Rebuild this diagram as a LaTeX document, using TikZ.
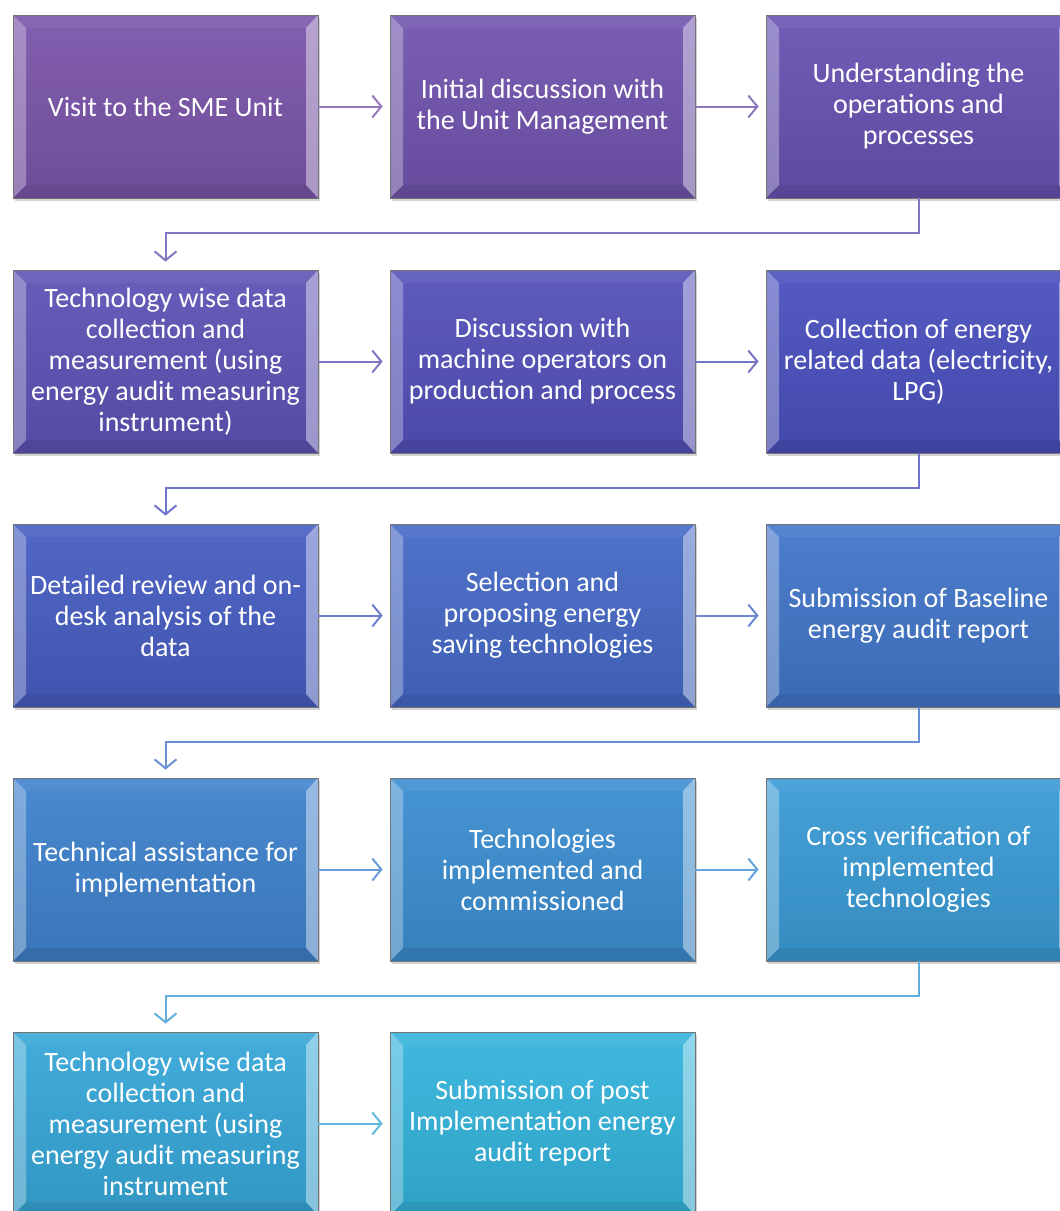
\documentclass[tikz,border=0pt]{standalone}
\usepackage{fontspec}
\setmainfont{Carlito}
\usetikzlibrary{arrows.meta,calc,shadows}

% colours of the stages, purple to cyan
\definecolor{st1}{RGB}{123,85,170}
\definecolor{st2}{RGB}{113,84,174}
\definecolor{st3}{RGB}{103,83,178}
\definecolor{st4}{RGB}{94,83,182}
\definecolor{st5}{RGB}{84,81,186}
\definecolor{st6}{RGB}{74,80,190}
\definecolor{st7}{RGB}{71,93,194}
\definecolor{st8}{RGB}{69,105,198}
\definecolor{st9}{RGB}{66,118,201}
\definecolor{st10}{RGB}{63,130,205}
\definecolor{st11}{RGB}{60,142,209}
\definecolor{st12}{RGB}{58,155,213}
\definecolor{st13}{RGB}{55,167,216}
\definecolor{st14}{RGB}{52,180,220}

\tikzset{
  stage/.style={draw=black!55, line width=0.8pt,
    top color=#1!94!white, bottom color=#1!90!black,
    minimum width=305pt, minimum height=183pt,
    text=white, align=center, inner sep=0pt,
    font=\fontsize{28}{31}\selectfont,
    drop shadow={opacity=0.35, shadow xshift=2pt, shadow yshift=-3pt},
    path picture={
      \coordinate (pnw) at (path picture bounding box.north west);
      \coordinate (pne) at (path picture bounding box.north east);
      \coordinate (psw) at (path picture bounding box.south west);
      \coordinate (pse) at (path picture bounding box.south east);
      \fill[white,opacity=0.30] (pnw) -- (psw) -- ($(psw)+(13,-13)$) -- ($(pnw)+(13,13)$) -- cycle;
      \fill[white,opacity=0.42] (pne) -- (pse) -- ($(pse)+(-12,-13)$) -- ($(pne)+(-12,13)$) -- cycle;
      \fill[white,opacity=0.05] (pnw) -- (pne) -- ($(pne)+(-12,13)$) -- ($(pnw)+(13,13)$) -- cycle;
      \fill[black,opacity=0.07] (psw) -- (pse) -- ($(pse)+(-12,-13)$) -- ($(psw)+(13,-13)$) -- cycle;
    }},
  flow/.style={draw=#1!80!white, line width=2pt,
    -{Straight Barb[length=9pt,width=22pt]}, shorten >=7pt},
  back/.style={flow=#1, shorten >=8pt}
}

\begin{document}
\begin{tikzpicture}[x=1pt,y=-1pt]
  \useasboundingbox (0,0) rectangle (1060,1211);

  % row 1
  \node[stage=st1] (s1) at (165.5,106.5) {Visit to the SME Unit};
  \node[stage=st2] (s2) at (542.5,106.5) {Initial discussion with\\the Unit Management};
  \node[stage=st3] (s3) at (918.5,106.5) {Understanding the\\operations and\\processes};

  % row 2
  \node[stage=st4] (s4) at (165.5,361.5) {Technology wise data\\collection and\\measurement (using\\energy audit measuring\\instrument)};
  \node[stage=st5] (s5) at (542.5,361.5) {Discussion with\\machine operators on\\production and process};
  \node[stage=st6] (s6) at (918.5,361.5) {Collection of energy\\related data (electricity,\\LPG)};

  % row 3
  \node[stage=st7] (s7) at (165.5,615.5) {Detailed review and on-\\desk analysis of the\\data};
  \node[stage=st8] (s8) at (542.5,615.5) {Selection and\\proposing energy\\saving technologies};
  \node[stage=st9] (s9) at (918.5,615.5) {Submission of Baseline\\energy audit report};

  % row 4
  \node[stage=st10] (s10) at (165.5,869.5) {Technical assistance for\\implementation};
  \node[stage=st11] (s11) at (542.5,869.5) {Technologies\\implemented and\\commissioned};
  \node[stage=st12] (s12) at (918.5,869.5) {Cross verification of\\implemented\\technologies};

  % row 5
  \node[stage=st13] (s13) at (165.5,1123.5) {Technology wise data\\collection and\\measurement (using\\energy audit measuring\\instrument};
  \node[stage=st14] (s14) at (542.5,1123.5) {Submission of post\\Implementation energy\\audit report};

  % arrows along the rows
  \draw[flow=st1] (s1.east) -- (s2.west);
  \draw[flow=st2] (s2.east) -- (s3.west);
  \draw[flow=st4] (s4.east) -- (s5.west);
  \draw[flow=st5] (s5.east) -- (s6.west);
  \draw[flow=st7] (s7.east) -- (s8.west);
  \draw[flow=st8] (s8.east) -- (s9.west);
  \draw[flow=st10] (s10.east) -- (s11.west);
  \draw[flow=st11] (s11.east) -- (s12.west);
  \draw[flow=st13] (s13.east) -- (s14.west);

  % arrows back to the next row
  \draw[back=st3] (s3.south) -- ++(0,35) -| (s4.north);
  \draw[back=st6] (s6.south) -- ++(0,35) -| (s7.north);
  \draw[back=st9] (s9.south) -- ++(0,35) -| (s10.north);
  \draw[back=st12] (s12.south) -- ++(0,35) -| (s13.north);
\end{tikzpicture}
\end{document}
